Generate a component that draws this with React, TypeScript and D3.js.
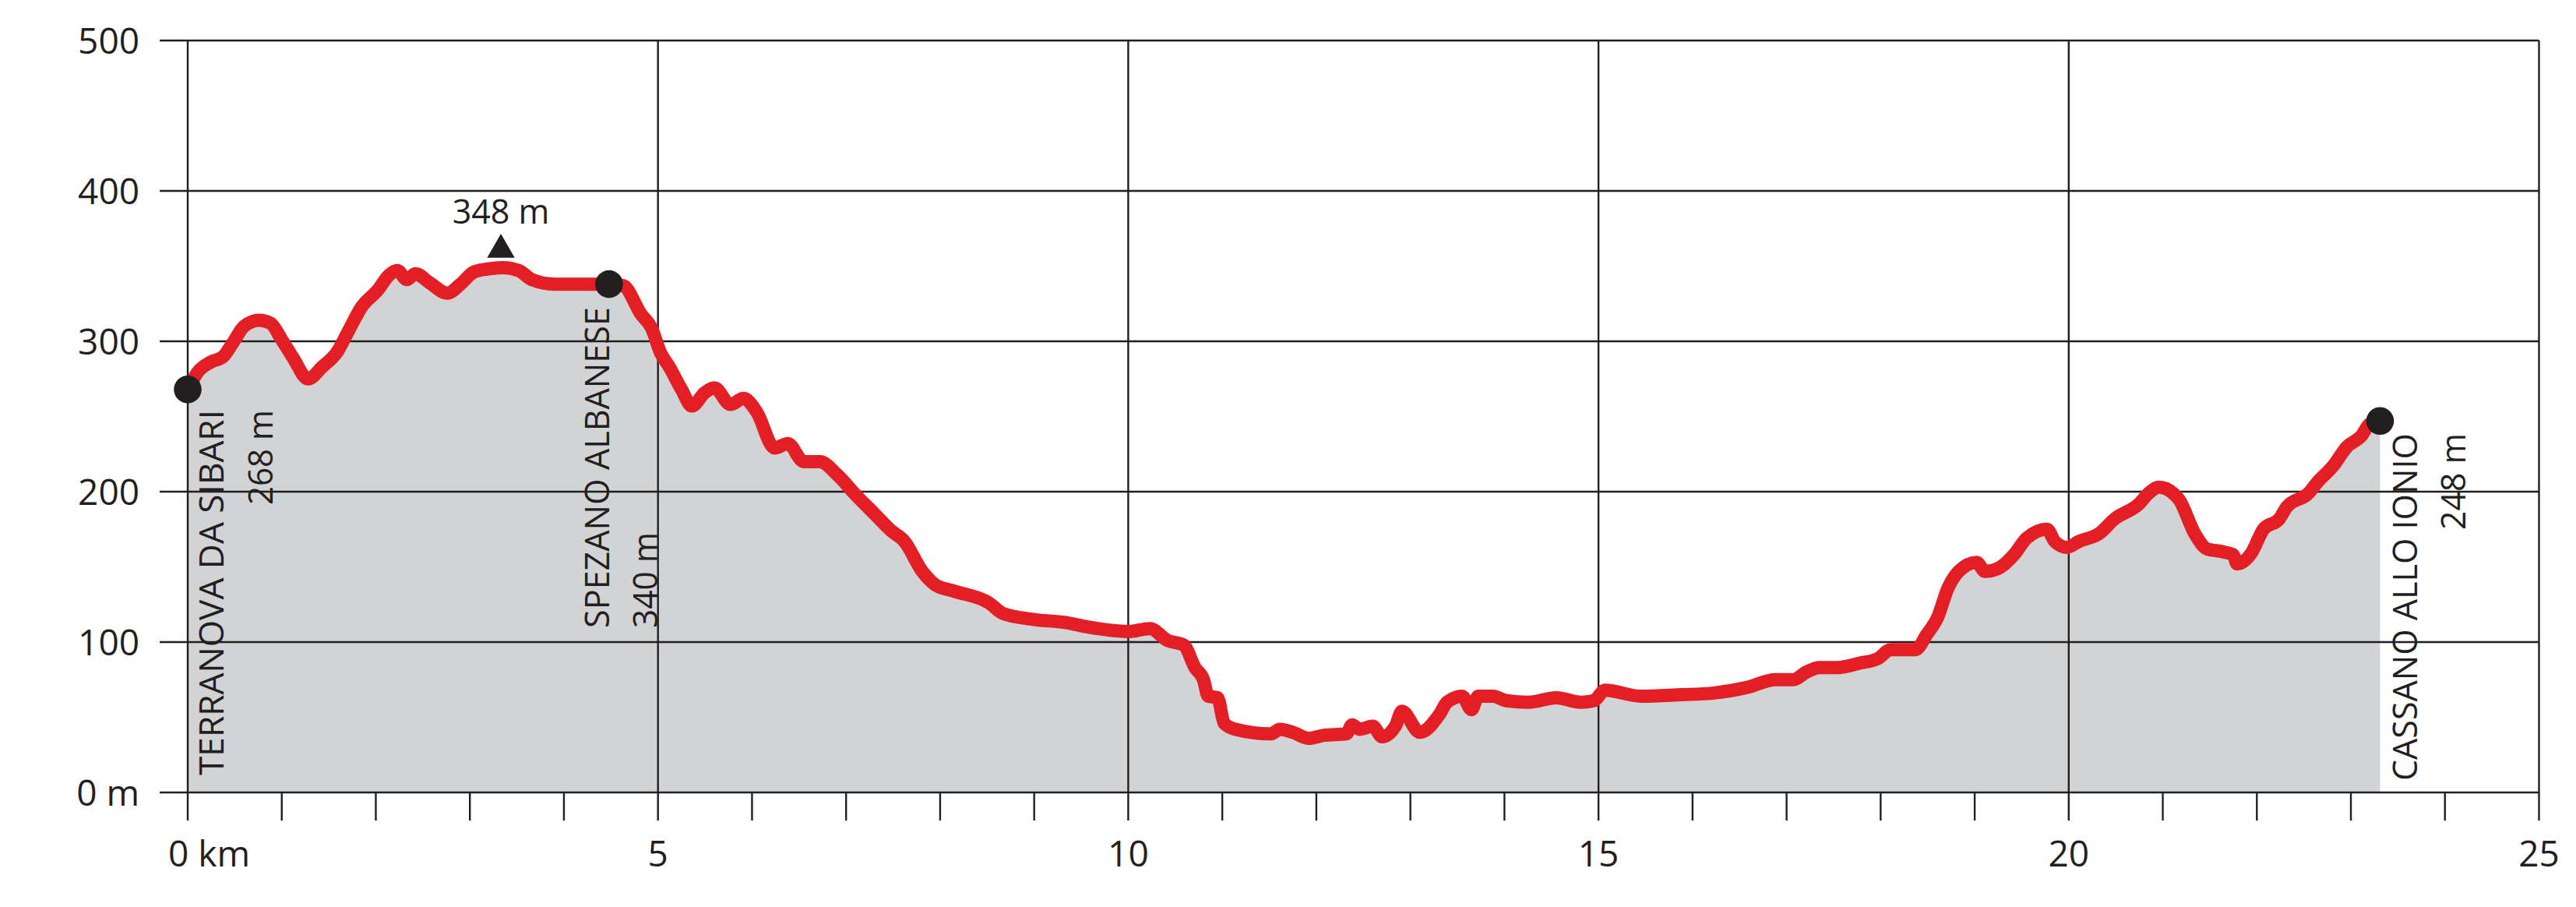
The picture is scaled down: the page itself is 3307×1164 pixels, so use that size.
import React from "react";
import * as d3 from "d3";

const km = [
  0.0, 0.1, 0.24, 0.38, 0.48, 0.6, 0.76, 0.88, 1.0, 1.12, 1.28, 1.43, 1.59, 1.71, 1.85, 2.02, 2.14, 2.23, 2.33, 2.42,
  2.57, 2.76, 2.9, 3.04, 3.18, 3.35, 3.52, 3.66, 3.9, 4.18, 4.48, 4.63, 4.82, 4.93, 5.03, 5.12, 5.25, 5.36, 5.5, 5.6,
  5.77, 5.91, 6.05, 6.24, 6.38, 6.55, 6.72, 6.91, 7.1, 7.29, 7.48, 7.62, 7.81, 7.95, 8.14, 8.52, 8.67, 9.0, 9.33, 9.57,
  10.0, 10.23, 10.42, 10.59, 10.71, 10.8, 10.85, 10.95, 11.02, 11.14, 11.52, 11.61, 11.75, 11.92, 12.08, 12.32, 12.38,
  12.46, 12.6, 12.7, 12.84, 12.91, 13.1, 13.31, 13.39, 13.55, 13.65, 13.72, 13.88, 14.02, 14.26, 14.55, 14.81, 14.95,
  15.07, 15.45, 15.88, 16.21, 16.59, 16.88, 17.07, 17.21, 17.35, 17.54, 17.78, 17.97, 18.11, 18.37, 18.49, 18.61, 18.71,
  18.83, 19.02, 19.11, 19.25, 19.43, 19.55, 19.77, 19.85, 19.98, 20.11, 20.32, 20.49, 20.75, 20.85, 20.96, 21.17, 21.34,
  21.47, 21.64, 21.75, 21.79, 21.94, 22.07, 22.24, 22.32, 22.55, 22.64, 22.81, 22.96, 23.11, 23.2, 23.31,
];

const elevation = [
  267, 279, 286, 290, 299, 310, 314, 312, 301, 289, 275, 283, 293, 307, 323, 334, 344, 347, 341, 345,
  339, 332, 338, 346, 348, 349, 347, 341, 338, 338, 338, 337, 318, 309, 292, 283, 268, 257, 266, 269,
  258, 262, 253, 229, 232, 220, 220, 211, 198, 186, 174, 167, 147, 138, 134, 126, 119, 115, 113, 110,
  107, 109, 101, 98, 83, 75, 64, 63, 46, 42, 39, 42, 40, 36, 38, 39, 45,
  42, 44, 37, 44, 54, 40, 52, 60, 64, 55, 64, 64, 61, 60, 63, 60, 61,
  68, 64, 65, 66, 70, 75, 75, 80, 83, 83, 86, 89, 95, 95, 105, 117, 135,
  147, 153, 147, 149, 159, 169, 175, 167, 163, 167, 172, 182, 192, 199, 203, 195, 172,
  162, 160, 158, 152, 159, 175, 182, 190, 199, 206, 217, 230, 237, 245, 247,
];

const yTicks = [0, 100, 200, 300, 400, 500];
const yTickLabels = ["0 m", "100", "200", "300", "400", "500"];
const xMajor = [0, 5, 10, 15, 20, 25];
const xMajorLabels = ["0 km", "5", "10", "15", "20", "25"];
const xMinor = [1, 2, 3, 4, 6, 7, 8, 9, 11, 12, 13, 14, 16, 17, 18, 19, 21, 22, 23, 24];

const placeNames = ["TERRANOVA DA SIBARI", "SPEZANO ALBANESE", "CASSANO ALLO IONIO"];
const placeKm = [0, 4.48, 23.31];
const placeElev = [268, 338, 247];
const placeElevLabels = ["268 m", "340 m", "248 m"];

const peakKm = 3.33;
const peakLabel = "348 m";

const W = 3307;
const H = 1164;
const GRID = "#231f20";
const RED = "#e31e25";
const FILL = "#d1d3d4";
const FONT = "'Open Sans', 'DejaVu Sans', sans-serif";

export default function App() {
  const x = d3.scaleLinear().domain([0, 25]).range([241, 3259.5]);
  const y = d3.scaleLinear().domain([0, 500]).range([1017, 52]);
  const pts: [number, number][] = km.map((k, i) => [k, elevation[i]]);

  const area = d3
    .area<[number, number]>()
    .x((d) => x(d[0]))
    .y0(y(0))
    .y1((d) => y(d[1]))
    .curve(d3.curveMonotoneX);
  const line = d3
    .line<[number, number]>()
    .x((d) => x(d[0]))
    .y((d) => y(d[1]))
    .curve(d3.curveMonotoneX);

  const tickBottom = 1053;
  const gridLeft = 205;

  const nameSpecs: [number, number, string, number][] = [
    [287, 526, "end", 469],
    [782, 806, "start", 412],
    [3103, 1002, "start", 446],
  ];
  const elevSpecs: [number, number, string, number][] = [
    [350, 526, "end", 122],
    [844, 806, "start", 123],
    [3165, 556, "end", 124],
  ];

  const px = x(peakKm);
  return (
    <svg
      width={W}
      height={H}
      viewBox={`0 0 ${W} ${H}`}
      style={{ position: "absolute", left: 0, top: 0, background: "#fff" }}
    >
      <rect x={0} y={0} width={W} height={H} fill="#fff" />
      <path d={area(pts) || ""} fill={FILL} />

      {yTicks.map((t) => (
        <line key={"h" + t} x1={gridLeft} x2={x(25)} y1={y(t)} y2={y(t)} stroke={GRID} strokeWidth={2.6} />
      ))}
      {xMajor.map((t) => (
        <line key={"v" + t} x1={x(t)} x2={x(t)} y1={y(500)} y2={tickBottom} stroke={GRID} strokeWidth={2.4} />
      ))}
      {xMinor.map((t) => (
        <line key={"m" + t} x1={x(t)} x2={x(t)} y1={y(0)} y2={tickBottom} stroke={GRID} strokeWidth={2.4} />
      ))}

      <path
        d={line(pts) || ""}
        fill="none"
        stroke={RED}
        strokeWidth={17}
        strokeLinejoin="round"
        strokeLinecap="round"
      />

      {placeKm.map((k, i) => (
        <circle key={"c" + i} cx={x(k)} cy={y(placeElev[i])} r={17.8} fill={GRID} />
      ))}

      <path d={`M${px - 17.7},${330.7} L${px + 17.7},${330.7} L${px},${300} Z`} fill={GRID} />
      <text x={px} y={287} textAnchor="middle" fontFamily={FONT} fontSize={43} fill={GRID}>
        {peakLabel}
      </text>

      {yTicks.map((t, i) => (
        <text
          key={"yl" + t}
          x={179}
          y={y(t)}
          dy="0.36em"
          textAnchor="end"
          fontFamily={FONT}
          fontSize={46}
          fill={GRID}
        >
          {yTickLabels[i]}
        </text>
      ))}
      {xMajor.map((t, i) => (
        <text
          key={"xl" + t}
          x={i === 0 ? 216 : x(t)}
          y={1112}
          textAnchor={i === 0 ? "start" : "middle"}
          fontFamily={FONT}
          fontSize={46}
          fill={GRID}
        >
          {xMajorLabels[i]}
        </text>
      ))}

      {placeNames.map((n, i) => {
        const [bx, ay, anc, len] = nameSpecs[i];
        return (
          <text
            key={"pn" + i}
            transform={`translate(${bx},${ay}) rotate(-90)`}
            textAnchor={anc}
            fontFamily={FONT}
            fontSize={44}
            fill={GRID}
            textLength={len}
            lengthAdjust="spacingAndGlyphs"
          >
            {n}
          </text>
        );
      })}
      {placeElevLabels.map((n, i) => {
        const [bx, ay, anc, len] = elevSpecs[i];
        return (
          <text
            key={"pe" + i}
            transform={`translate(${bx},${ay}) rotate(-90)`}
            textAnchor={anc}
            fontFamily={FONT}
            fontSize={44}
            fill={GRID}
            textLength={len}
            lengthAdjust="spacingAndGlyphs"
          >
            {n}
          </text>
        );
      })}
    </svg>
  );
}
